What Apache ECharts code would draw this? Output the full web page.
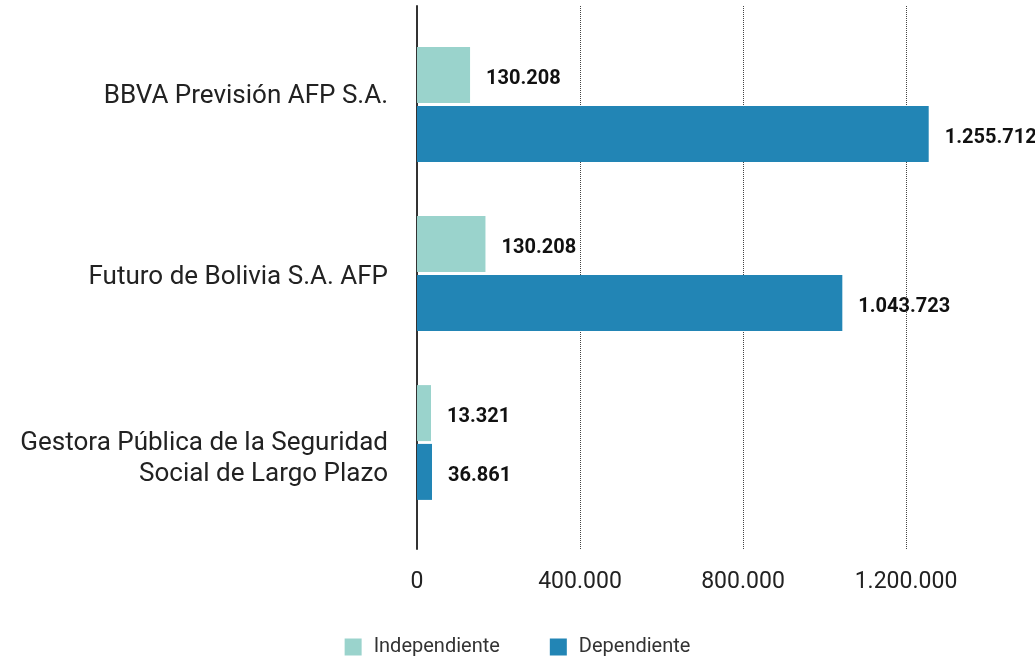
<!DOCTYPE html>
<html>
<head>
<meta charset="utf-8">
<script src="https://cdn.jsdelivr.net/npm/echarts@6/dist/echarts.min.js"></script>
<style>
  html, body { margin: 0; padding: 0; background: #fff; }
  #chart { width: 1035px; height: 657px; }
</style>
</head>
<body>
<div id="chart"></div>
<script>
// data
var categories = ['BBVA Previsión AFP S.A.', 'Futuro de Bolivia S.A. AFP', 'Gestora Pública de la Seguridad\nSocial de Largo Plazo'];
var independiente = [130208, 168000, 13321];
var dependiente = [1255712, 1043723, 36861];
var independienteLabels = ['130.208', '130.208', '13.321'];
var dependienteLabels = ['1.255.712', '1.043.723', '36.861'];
var tickLabels = { 0: '0', 400000: '400.000', 800000: '800.000', 1200000: '1.200.000' };

var FONT = 'Roboto, "DejaVu Sans", sans-serif';

function barLabel(texts) {
	return {
		show: true,
		position: 'right',
		distance: 16,
		offset: [0, 4],
		fontFamily: FONT,
		fontSize: 20,
		fontWeight: 'bold',
		color: '#111',
		formatter: function (p) { return texts[p.dataIndex]; }
	};
}

var option = {
	backgroundColor: '#fff',
	animation: false,
	legend: {
		top: 632,
		left: 'center',
		itemWidth: 17,
		itemHeight: 17,
		itemGap: 50,
		icon: 'rect',
		textStyle: { fontFamily: FONT, fontSize: 20, color: '#333', padding: [0, 0, 0, 7] },
		data: ['Independiente', 'Dependiente']
	},
	grid: [
		{ left: 417, right: 129, top: 6, bottom: 108 },
		{ left: 417, right: 129, top: 20, bottom: 130 }
	],
	xAxis: [{
		gridIndex: 0,
		type: 'value',
		min: 0,
		max: 1200000,
		interval: 400000,
		axisLine: { show: false },
		axisTick: { show: false },
		splitLine: { show: true, lineStyle: { color: '#444', type: 'dotted', width: 1 } },
		axisLabel: {
			margin: 22,
			fontFamily: FONT,
			fontSize: 23,
			color: '#222',
			formatter: function (v) { return tickLabels[v]; }
		}
	}, {
		gridIndex: 1,
		type: 'value',
		min: 0,
		max: 1200000,
		show: false
	}],
	yAxis: [{
		gridIndex: 0,
		type: 'category',
		inverse: true,
		data: categories,
		axisLine: { show: true, lineStyle: { color: '#333', width: 2 } },
		axisTick: { show: false },
		axisLabel: {
			margin: 29,
			fontFamily: FONT,
			fontSize: 26,
			lineHeight: 31,
			color: '#222',
			align: 'right'
		}
	}, {
		gridIndex: 1,
		type: 'category',
		inverse: true,
		data: categories,
		show: false
	}],
	series: [{
		name: 'Independiente',
		type: 'bar',
		xAxisIndex: 1,
		yAxisIndex: 1,
		data: independiente,
		barWidth: 56,
		barGap: '5%',
		barMinHeight: 14,
		clip: false,
		itemStyle: { color: '#9ad3cc' },
		label: barLabel(independienteLabels)
	}, {
		name: 'Dependiente',
		type: 'bar',
		xAxisIndex: 1,
		yAxisIndex: 1,
		data: dependiente,
		barWidth: 56,
		barGap: '5%',
		barMinHeight: 14,
		clip: false,
		itemStyle: { color: '#2285b5' },
		label: barLabel(dependienteLabels)
	}]
};

var myChart = echarts.init(document.getElementById('chart'));
myChart.setOption(option);
</script>
</body>
</html>
